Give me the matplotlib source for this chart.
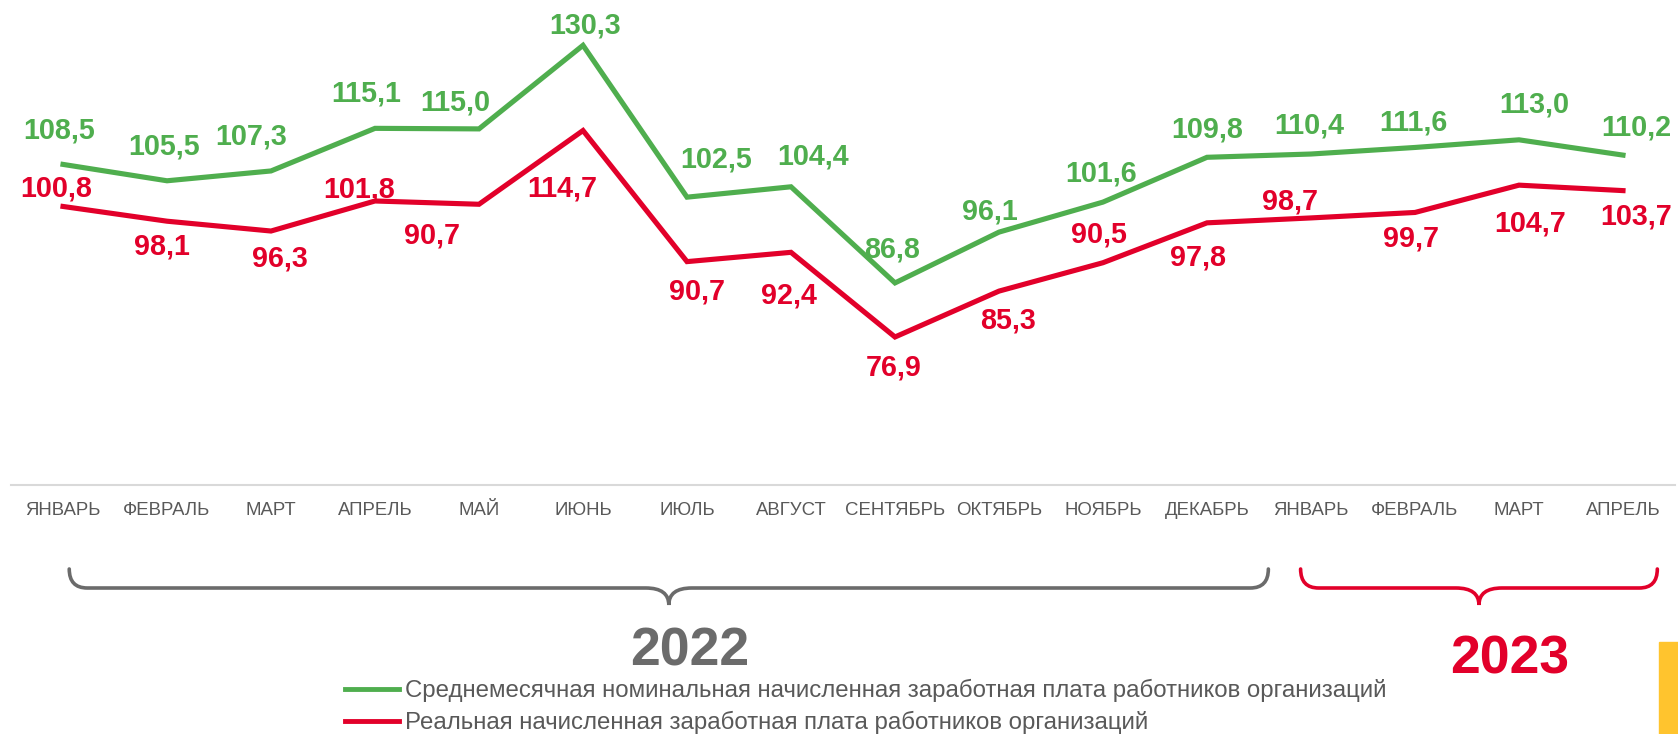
import matplotlib.pyplot as plt
from matplotlib.path import Path
from matplotlib.patches import PathPatch, Rectangle
from matplotlib.lines import Line2D

plt.rcParams['font.family'] = ['Liberation Sans', 'DejaVu Sans']

months = ['ЯНВАРЬ', 'ФЕВРАЛЬ', 'МАРТ', 'АПРЕЛЬ', 'МАЙ', 'ИЮНЬ', 'ИЮЛЬ', 'АВГУСТ',
          'СЕНТЯБРЬ', 'ОКТЯБРЬ', 'НОЯБРЬ', 'ДЕКАБРЬ', 'ЯНВАРЬ', 'ФЕВРАЛЬ', 'МАРТ', 'АПРЕЛЬ']

nominal = [108.5, 105.5, 107.3, 115.1, 115.0, 130.3, 102.5, 104.4,
           86.8, 96.1, 101.6, 109.8, 110.4, 111.6, 113.0, 110.2]
nominal_labels = ['108,5', '105,5', '107,3', '115,1', '115,0', '130,3', '102,5', '104,4',
                  '86,8', '96,1', '101,6', '109,8', '110,4', '111,6', '113,0', '110,2']

# May point is drawn at ~101.2 in the source, while its label reads 90,7
real = [100.8, 98.1, 96.3, 101.8, 101.2, 114.7, 90.7, 92.4,
        76.9, 85.3, 90.5, 97.8, 98.7, 99.7, 104.7, 103.7]
real_labels = ['100,8', '98,1', '96,3', '101,8', '90,7', '114,7', '90,7', '92,4',
               '76,9', '85,3', '90,5', '97,8', '98,7', '99,7', '104,7', '103,7']

legend_names = ['Среднемесячная номинальная начисленная заработная плата работников организаций',
                'Реальная начисленная заработная плата работников организаций']
years = ['2022', '2023']

GREEN = '#4fae4e'
RED = '#e2002a'
GREY = '#6b6b6b'
W, H = 1678, 734

# label offsets in pixels (dx, dy)
green_off = [(-4, 34), (-3, 34), (-20, 34), (-9, 35), (-24, 26), (2, 20), (29, 38), (22, 30),
             (-3, 33), (-9, 21), (-2, 29), (0, 28), (-2, 29), (-2, 25), (15, 35), (13, 28)]
red_off = [(-7, 18), (-5, -25), (9, -27), (-16, 11), (-47, -31), (-21, -58), (10, -30), (-2, -43),
           (-1, -31), (9, -29), (-4, 28), (-9, -35), (-21, 16), (-4, -26), (11, -38), (13, -26)]

fig = plt.figure(figsize=(W / 100, H / 100), dpi=100)
ax = fig.add_axes([11 / W, 1 - 485 / H, 1664 / W, 482 / H])

x = range(len(months))
ax.plot(x, nominal, color=GREEN, lw=3.7, solid_joinstyle='miter')
ax.plot(x, real, color=RED, lw=3.7, solid_joinstyle='miter')

for i in x:
    ax.annotate(nominal_labels[i], (i, nominal[i]), xytext=green_off[i], textcoords='offset pixels',
                ha='center', va='center', fontsize=20.7, fontweight='bold', color=GREEN,
                annotation_clip=False)
    ax.annotate(real_labels[i], (i, real[i]), xytext=red_off[i], textcoords='offset pixels',
                ha='center', va='center', fontsize=20.7, fontweight='bold', color=RED,
                annotation_clip=False)

ax.set_xlim(-0.5, len(months) - 0.5)
ax.set_ylim(49.8, 138.05)
ax.set_xticks(list(x))
ax.set_xticklabels(months, fontsize=13.4, color='#595959')
ax.set_yticks([])
ax.tick_params(axis='x', length=0, pad=12)
for s in ['top', 'left', 'right']:
    ax.spines[s].set_visible(False)
ax.spines['bottom'].set_color('#d9d9d9')
ax.spines['bottom'].set_linewidth(1.5)


def to_fig_x(xd):
    px = ax.transData.transform((xd, 0))[0]
    return px / W


def brace(x0, x1, color):
    xc = (x0 + x1) / 2
    yt, ym, yb = 1 - 569 / H, 1 - 588 / H, 1 - 605 / H
    r = 18 / W
    t = 23 / W
    verts = [(x0, yt), (x0, ym), (x0 + r, ym), (xc - t, ym), (xc, ym), (xc, yb),
             (xc, ym), (xc + t, ym), (x1 - r, ym), (x1, ym), (x1, yt)]
    codes = [Path.MOVETO, Path.CURVE3, Path.CURVE3, Path.LINETO, Path.CURVE3, Path.CURVE3,
             Path.CURVE3, Path.CURVE3, Path.LINETO, Path.CURVE3, Path.CURVE3]
    fig.patches.append(PathPatch(Path(verts, codes), transform=fig.transFigure, fill=False,
                                 edgecolor=color, lw=2.6, capstyle='round'))


brace(to_fig_x(0.06), to_fig_x(11.59), GREY)
brace(to_fig_x(11.9), to_fig_x(15.33), RED)

fig.text(690 / W, 1 - 651 / H, years[0], ha='center', va='center', fontsize=38.5,
         fontweight='bold', color=GREY)
fig.text(1510 / W, 1 - 660 / H, years[1], ha='center', va='center', fontsize=38.5,
         fontweight='bold', color=RED)

handles = [Line2D([], [], color=GREEN, lw=3.5), Line2D([], [], color=RED, lw=3.5)]
fig.legend(handles, legend_names, loc='upper left', bbox_to_anchor=(345 / W, 1 - 679 / H),
           frameon=False, fontsize=17.3, handlelength=2.24, handletextpad=0.27,
           labelspacing=0.37, borderpad=0, borderaxespad=0, labelcolor='#595959')

fig.patches.append(Rectangle((1659 / W, 0), 19 / W, 92 / H, transform=fig.transFigure,
                             color='#ffc42e'))

fig.savefig('out.png', dpi=100)
